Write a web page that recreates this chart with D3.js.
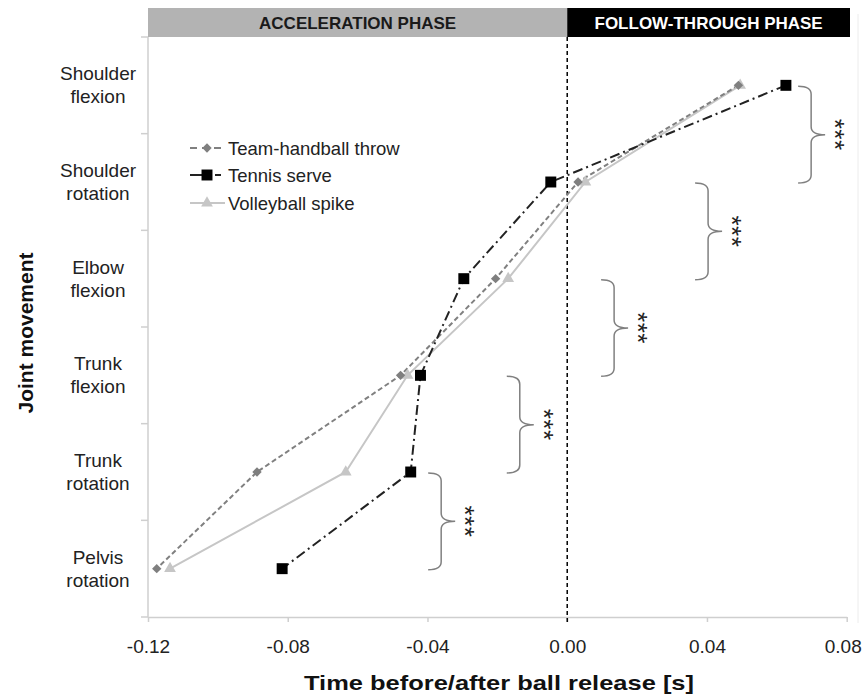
<!doctype html>
<html>
<head>
<meta charset="utf-8">
<title>Joint movement timing</title>
<script src="https://cdnjs.cloudflare.com/ajax/libs/d3/7.8.5/d3.min.js"></script>
<style>
  body { margin: 0; background: #fff; }
  text { font-family: "Liberation Sans", Arial, sans-serif; }
</style>
</head>
<body>
<div id="chart"></div>
<script>
// joint movements, top to bottom (two text lines each)
const joints = [
  ["Shoulder", "flexion"],
  ["Shoulder", "rotation"],
  ["Elbow", "flexion"],
  ["Trunk", "flexion"],
  ["Trunk", "rotation"],
  ["Pelvis", "rotation"]
];
// time of peak angular velocity relative to ball release [s]
const handball   = [0.049, 0.0031, -0.0205, -0.0477, -0.0888, -0.1175];
const tennis     = [0.0626, -0.0047, -0.0296, -0.042, -0.0448, -0.0816];
const volleyball = [0.0495, 0.0052, -0.0169, -0.0457, -0.0634, -0.1137];
const seriesNames = ["Team-handball throw", "Tennis serve", "Volleyball spike"];
const xTicks = [-0.12, -0.08, -0.04, 0, 0.04, 0.08];
const phaseNames = ["ACCELERATION PHASE", "FOLLOW-THROUGH PHASE"];
// significance brackets between neighbouring joints, x = left end [s]
const sigFrom = [0, 1, 2, 3, 4];
const sigX = [0.0661, 0.0366, 0.0097, -0.0173, -0.0398];
const sigLabel = ["***", "***", "***", "***", "***"];

const W = 864, H = 700;
const svg = d3.select("#chart").append("svg")
  .attr("width", W).attr("height", H);

const x = d3.scaleLinear().domain([-0.12, 0.08]).range([148, 846.7]);
const y = d3.scaleBand().domain(d3.range(joints.length)).range([37, 617]);
const yc = i => y(i) + y.bandwidth() / 2;
const plotRight = 850;

// phase header bars
svg.append("rect").attr("x", x(-0.12)).attr("y", 8)
  .attr("width", x(0) - x(-0.12)).attr("height", 29).attr("fill", "#b3b3b3");
svg.append("rect").attr("x", x(0)).attr("y", 8)
  .attr("width", plotRight - x(0)).attr("height", 29).attr("fill", "#000");
svg.append("text").attr("x", (x(-0.12) + x(0)) / 2).attr("y", 29)
  .attr("text-anchor", "middle").attr("font-size", 17).attr("font-weight", 700)
  .attr("fill", "#1a1a1a").text(phaseNames[0]);
svg.append("text").attr("x", (x(0) + plotRight) / 2).attr("y", 29)
  .attr("text-anchor", "middle").attr("font-size", 17).attr("font-weight", 700)
  .attr("fill", "#fff").text(phaseNames[1]);

// faint right border
svg.append("line").attr("x1", 858).attr("x2", 858).attr("y1", 14).attr("y2", 623)
  .attr("stroke", "#ececec").attr("stroke-width", 1);

// x axis
const xAxis = svg.append("g").attr("transform", "translate(0,617)")
  .call(d3.axisBottom(x).tickValues(xTicks).tickSize(5).tickSizeOuter(0)
    .tickFormat(d3.format(".2f")));
xAxis.select(".domain").attr("stroke", "#cfcfcf").attr("stroke-width", 1.5);
xAxis.selectAll(".tick line").attr("stroke", "#cfcfcf").attr("stroke-width", 1.5);
xAxis.selectAll(".tick text").attr("font-size", 19).attr("fill", "#222")
  .attr("font-family", "Liberation Sans, Arial, sans-serif").attr("dy", "1.45em")
  .attr("dx", (d, i) => i === xTicks.length - 1 ? -4 : 0)
  .text(d => d3.format(".2f")(d).replace("−", "-"));

// y axis: line + ticks at band edges
svg.append("line").attr("x1", x(-0.12)).attr("x2", x(-0.12)).attr("y1", 37).attr("y2", 617)
  .attr("stroke", "#cfcfcf").attr("stroke-width", 1.5);
svg.selectAll(".ytick").data(d3.range(joints.length + 1)).join("line")
  .attr("class", "ytick")
  .attr("x1", x(-0.12) - 7).attr("x2", x(-0.12))
  .attr("y1", i => 37 + i * y.step()).attr("y2", i => 37 + i * y.step())
  .attr("stroke", "#cfcfcf").attr("stroke-width", 1.5);

const ylab = svg.selectAll(".ylab").data(joints).join("text")
  .attr("class", "ylab").attr("text-anchor", "middle").attr("font-size", 19).attr("fill", "#222");
ylab.append("tspan").attr("x", 98).attr("y", (d, i) => yc(i) - 5).text(d => d[0]);
ylab.append("tspan").attr("x", 98).attr("y", (d, i) => yc(i) + 18).text(d => d[1]);

// axis titles
svg.append("text").attr("transform", "translate(33,333) rotate(-90)")
  .attr("text-anchor", "middle").attr("font-size", 21).attr("font-weight", 700)
  .attr("fill", "#111").text("Joint movement");
svg.append("text").attr("x", 499).attr("y", 690)
  .attr("text-anchor", "middle").attr("font-size", 21).attr("font-weight", 700)
  .attr("textLength", 390).attr("lengthAdjust", "spacingAndGlyphs")
  .attr("fill", "#111").text("Time before/after ball release [s]");

// ball release line
svg.append("line").attr("x1", x(0)).attr("x2", x(0)).attr("y1", 37).attr("y2", 624)
  .attr("stroke", "#000").attr("stroke-width", 1.5).attr("stroke-dasharray", "4,3");

// series (diamond = square turned 45 degrees)
const series = [
  { name: seriesNames[0], values: handball, color: "#808080", dash: "5,3", width: 2,
    symbol: d3.symbolSquare, size: 44, rot: 45, fill: "#7f7f7f", legendDash: "7,5" },
  { name: seriesNames[1], values: tennis, color: "#222", dash: "10,4,2,4", width: 2,
    symbol: d3.symbolSquare, size: 120, rot: 0, fill: "#000", legendDash: "15,10,6,10" },
  { name: seriesNames[2], values: volleyball, color: "#c6c6c6", dash: null, width: 2,
    symbol: d3.symbolTriangle, size: 60, rot: 0, fill: "#c6c6c6", legendDash: null }
];

const line = d3.line().x(d => x(d)).y((d, i) => yc(i));

// draw lines first (volleyball under the others)
[2, 0, 1].forEach(k => {
  const s = series[k];
  svg.append("path").datum(s.values)
    .attr("d", line).attr("fill", "none")
    .attr("stroke", s.color).attr("stroke-width", s.width)
    .attr("stroke-dasharray", s.dash);
});
[2, 0, 1].forEach(k => {
  const s = series[k];
  svg.selectAll(".m" + k).data(s.values).join("path")
    .attr("class", "m" + k)
    .attr("transform", (d, i) => `translate(${x(d)},${yc(i)}) rotate(${s.rot})`)
    .attr("d", d3.symbol().type(s.symbol).size(s.size))
    .attr("fill", s.fill);
});

// significance brackets
const arm = 13, tip = 14, r = 8;
sigFrom.forEach((f, j) => {
  const x0 = x(sigX[j]), x1 = x0 + arm, x2 = x1 + tip;
  const y0 = yc(f) + 1, y1 = yc(f + 1) + 1, ym = (y0 + y1) / 2;
  const p = `M${x0},${y0} Q${x1},${y0} ${x1},${y0 + r} L${x1},${ym - r} Q${x1},${ym} ${x2},${ym}`
          + ` Q${x1},${ym} ${x1},${ym + r} L${x1},${y1 - r} Q${x1},${y1} ${x0},${y1}`;
  svg.append("path").attr("d", p).attr("fill", "none")
    .attr("stroke", "#808080").attr("stroke-width", 1.5);
  svg.append("text").attr("transform", `translate(${x0 + 28},${ym}) rotate(90)`)
    .attr("text-anchor", "middle").attr("font-size", 26).attr("letter-spacing", 0.5)
    .attr("fill", "#222").text(sigLabel[j]);
});

// legend
const lg = svg.append("g").attr("transform", "translate(190,148)");
series.forEach((s, i) => {
  const g = lg.append("g").attr("transform", `translate(0,${[0, 27, 55][i]})`);
  g.append("line").attr("x1", 0).attr("x2", 35).attr("y1", 0).attr("y2", 0)
    .attr("stroke", s.color).attr("stroke-width", s.width)
    .attr("stroke-dasharray", s.legendDash);
  g.append("path").attr("transform", `translate(17,0) rotate(${s.rot})`)
    .attr("d", d3.symbol().type(s.symbol).size(s.size)).attr("fill", s.fill);
  g.append("text").attr("x", 38).attr("y", 6.5).attr("font-size", 18.5)
    .attr("fill", "#222").text(s.name);
});
</script>
</body>
</html>
